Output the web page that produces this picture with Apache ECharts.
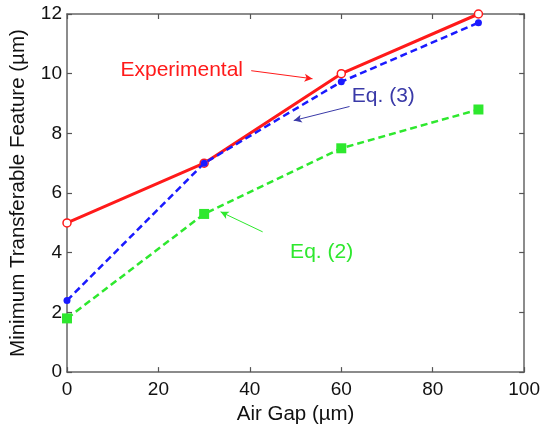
<!DOCTYPE html>
<html><head><meta charset="utf-8">
<script src="https://cdn.jsdelivr.net/npm/echarts@6/dist/echarts.min.js"></script>
<style>html,body{margin:0;padding:0;background:#fff}#c{width:543px;height:430px}</style>
</head><body><div id="c"></div>
<script>
const airGap = [0, 30, 60, 90];
const experimental = [5.0, 7.0, 10.0, 12.0];
const eq3 = [2.4, 7.0, 9.73, 11.71];
const eq2 = [1.8, 5.3, 7.5, 8.8];
const xTicks = [0, 20, 40, 60, 80, 100];
const yTicks = [0, 2, 4, 6, 8, 10, 12];
// annotation labels [x, y, text] and arrows [[x0,y0],[x1,y1]] in data units
const labelExp = [25.1, 10.13, 'Experimental'];
const labelEq3 = [69.2, 9.23, 'Eq. (3)'];
const labelEq2 = [55.7, 4.03, 'Eq. (2)'];
const arrowExp = [[40.3, 10.1], [53.7, 9.83]];
const arrowEq3 = [[61.8, 8.9], [49.6, 8.43]];
const arrowEq2 = [[42.8, 4.7], [33.6, 5.37]];

const RED = '#ff1a1a', BLUE = '#1a1aff', GREEN = '#2ee82e', NAVY = '#3a3aa8';
const font = 'Liberation Sans, Arial, sans-serif';
const axisCol = '#666';

function pts(ys) { return airGap.map((x, i) => [x, ys[i]]); }
function ann(lbl, arrow, textColor, lineColor) {
  return {
    markPoint: {
      symbol: 'circle', symbolSize: 0, silent: true,
      data: [{ coord: [lbl[0], lbl[1]], label: { show: true, formatter: lbl[2], color: textColor, fontSize: 21, fontFamily: font, position: 'inside' } }]
    },
    markLine: {
      silent: true, symbol: ['none', 'arrow'], symbolSize: [6, 8],
      lineStyle: { color: lineColor, width: 1, type: 'solid' },
      label: { show: false },
      data: [[{ coord: arrow[0] }, { coord: arrow[1] }]]
    }
  };
}

const chart = echarts.init(document.getElementById('c'));
const tickCommon = { show: true, inside: true, length: 5, lineStyle: { color: '#555', width: 1.2 } };
const lineCommon = { show: true, onZero: false, lineStyle: { color: axisCol, width: 1.5 } };
chart.setOption({
  animation: false,
  backgroundColor: '#fff',
  grid: { left: 67, right: 18, top: 14, bottom: 56 },
  xAxis: [{
    type: 'value', min: 0, max: 100, interval: 20, position: 'bottom',
    name: 'Air Gap (µm)', nameLocation: 'middle', nameGap: 30,
    nameTextStyle: { fontSize: 20.5, color: '#111', fontFamily: font },
    axisLine: lineCommon,
    axisTick: tickCommon, splitLine: { show: false },
    axisLabel: { fontSize: 19, color: '#111', fontFamily: font, margin: 8, formatter: v => xTicks.includes(v) ? String(v) : '' }
  }, {
    type: 'value', min: 0, max: 100, interval: 20, position: 'top',
    axisLine: lineCommon,
    axisTick: tickCommon, axisLabel: { show: false }, splitLine: { show: false }
  }],
  yAxis: [{
    type: 'value', min: 0, max: 12, interval: 2, position: 'left',
    name: 'Minimum Transferable Feature (µm)', nameLocation: 'middle', nameGap: 38,
    nameTextStyle: { fontSize: 20.5, color: '#111', fontFamily: font },
    axisLine: lineCommon,
    axisTick: tickCommon, splitLine: { show: false },
    axisLabel: { fontSize: 19, color: '#111', fontFamily: font, margin: 5, formatter: v => yTicks.includes(v) ? String(v) : '' }
  }, {
    type: 'value', min: 0, max: 12, interval: 2, position: 'right',
    axisLine: lineCommon,
    axisTick: tickCommon, axisLabel: { show: false }, splitLine: { show: false }
  }],
  series: [
    Object.assign({
      name: 'Eq. (2)', type: 'line', data: pts(eq2), z: 2,
      lineStyle: { color: GREEN, width: 2.5, type: [7, 4] },
      itemStyle: { color: GREEN }, symbol: 'rect', symbolSize: 10, showSymbol: true
    }, ann(labelEq2, arrowEq2, GREEN, GREEN)),
    Object.assign({
      name: 'Experimental', type: 'line', data: pts(experimental), z: 3,
      lineStyle: { color: RED, width: 3 },
      itemStyle: { color: '#fff', borderColor: RED, borderWidth: 1.5 }, symbol: 'circle', symbolSize: 8, showSymbol: true
    }, ann(labelExp, arrowExp, RED, RED)),
    Object.assign({
      name: 'Eq. (3)', type: 'line', data: pts(eq3), z: 4,
      lineStyle: { color: BLUE, width: 2.5, type: [7, 4] },
      itemStyle: { color: BLUE }, symbol: 'circle', symbolSize: 7, showSymbol: true
    }, ann(labelEq3, arrowEq3, NAVY, NAVY))
  ]
});
</script></body></html>
